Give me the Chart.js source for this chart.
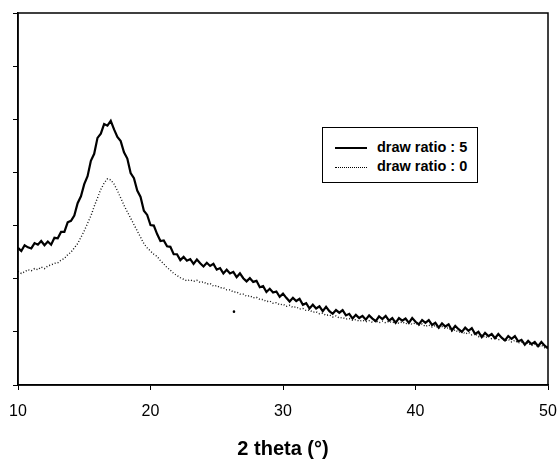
<!DOCTYPE html>
<html>
<head>
<meta charset="utf-8">
<script src="https://cdn.jsdelivr.net/npm/chart.js@4.4.1/dist/chart.umd.min.js"></script>
<style>
  body { margin: 0; background: #fff; }
  .wrap { position: relative; width: 558px; height: 459px; }
  .legend {
    position: absolute; left: 322px; top: 127px; width: 156px; height: 56px;
    border: 1px solid #000; box-sizing: border-box; background: #fff;
    font-family: "Liberation Sans", Arial, sans-serif; font-weight: bold; font-size: 14.5px; color: #000;
  }
  .legend .row { position: absolute; left: 12px; height: 18px; line-height: 18px; white-space: nowrap; }
  .legend .sample { display: inline-block; width: 32px; vertical-align: middle; margin-right: 10px; }
</style>
</head>
<body>
<div class="wrap">
  <canvas id="xrdChart" width="558" height="459"></canvas>
  <div class="legend">
    <div class="row" style="top: 10px;"><span class="sample" style="border-top: 2px solid #000;"></span>draw ratio : 5</div>
    <div class="row" style="top: 29px;"><span class="sample" style="border-top: 1px dotted #000;"></span>draw ratio : 0</div>
  </div>
</div>
<script>
// 2 theta grid, 10..50 in 0.25 steps
const thetaStart = 10;
const thetaStep = 0.25;

// intensity (arb. units), draw ratio 5
const ratio5 = [
  2.58, 2.52, 2.63, 2.59, 2.57, 2.67, 2.64, 2.71, 2.63, 2.70,
  2.64, 2.77, 2.76, 2.88, 2.88, 3.06, 3.09, 3.19, 3.42, 3.55,
  3.78, 3.93, 4.22, 4.35, 4.65, 4.73, 4.91, 4.88, 4.97, 4.81,
  4.67, 4.59, 4.38, 4.26, 3.99, 3.89, 3.66, 3.54, 3.28, 3.20,
  3.01, 3.00, 2.84, 2.71, 2.72, 2.61, 2.60, 2.46, 2.46, 2.35,
  2.41, 2.34, 2.37, 2.28, 2.36, 2.29, 2.23, 2.30, 2.24, 2.28,
  2.17, 2.20, 2.10, 2.17, 2.10, 2.13, 2.03, 2.10, 2.01, 1.95,
  2.01, 1.94, 1.96, 1.84, 1.86, 1.75, 1.81, 1.74, 1.76, 1.66,
  1.72, 1.64, 1.57, 1.64, 1.58, 1.62, 1.51, 1.54, 1.44, 1.51,
  1.44, 1.48, 1.39, 1.47, 1.39, 1.34, 1.41, 1.36, 1.41, 1.31,
  1.34, 1.25, 1.32, 1.26, 1.30, 1.23, 1.31, 1.25, 1.20, 1.29,
  1.24, 1.30, 1.21, 1.26, 1.17, 1.26, 1.21, 1.25, 1.17, 1.26,
  1.19, 1.14, 1.22, 1.17, 1.22, 1.13, 1.17, 1.08, 1.16, 1.10,
  1.14, 1.03, 1.11, 1.05, 1.00, 1.08, 1.02, 1.07, 0.96, 1.00,
  0.90, 0.98, 0.92, 0.96, 0.88, 0.96, 0.89, 0.84, 0.92, 0.87,
  0.92, 0.82, 0.85, 0.76, 0.83, 0.77, 0.81, 0.73, 0.81, 0.74,
  0.69
];

// intensity (arb. units), draw ratio 0
const ratio0 = [
  2.14, 2.10, 2.13, 2.17, 2.15, 2.19, 2.17, 2.22, 2.19, 2.24,
  2.26, 2.29, 2.30, 2.35, 2.38, 2.45, 2.50, 2.58, 2.66, 2.78,
  2.90, 3.04, 3.18, 3.36, 3.52, 3.68, 3.80, 3.88, 3.86, 3.78,
  3.66, 3.52, 3.38, 3.26, 3.14, 3.02, 2.90, 2.78, 2.66, 2.58,
  2.52, 2.46, 2.42, 2.34, 2.28, 2.21, 2.16, 2.10, 2.06, 2.02,
  1.99, 1.96, 1.98, 1.95, 1.97, 1.93, 1.94, 1.90, 1.91, 1.86,
  1.87, 1.83, 1.83, 1.79, 1.79, 1.75, 1.75, 1.71, 1.71, 1.67,
  1.68, 1.64, 1.65, 1.61, 1.61, 1.57, 1.58, 1.54, 1.55, 1.51,
  1.52, 1.48, 1.50, 1.46, 1.47, 1.43, 1.44, 1.40, 1.41, 1.37,
  1.38, 1.34, 1.35, 1.31, 1.32, 1.28, 1.30, 1.26, 1.27, 1.24,
  1.25, 1.22, 1.23, 1.20, 1.22, 1.19, 1.21, 1.18, 1.21, 1.17,
  1.20, 1.17, 1.20, 1.17, 1.20, 1.16, 1.19, 1.15, 1.18, 1.14,
  1.17, 1.12, 1.15, 1.10, 1.13, 1.09, 1.12, 1.07, 1.10, 1.06,
  1.08, 1.01, 1.04, 0.99, 1.02, 0.96, 0.99, 0.94, 0.97, 0.91,
  0.94, 0.89, 0.92, 0.87, 0.90, 0.85, 0.88, 0.83, 0.86, 0.81,
  0.84, 0.79, 0.81, 0.77, 0.79, 0.74, 0.77, 0.72, 0.75, 0.70,
  0.73
];

// lone speck in the scan
const speck = [{ x: 26.3, y: 1.38 }];

const xTicks = [10, 20, 30, 40, 50];

const toPoints = (vals) => vals.map((v, i) => ({ x: thetaStart + i * thetaStep, y: v }));

// full frame round the plot
const frame = {
  id: 'frame',
  afterDraw(chart) {
    const { ctx, chartArea: a } = chart;
    ctx.save();
    ctx.strokeStyle = '#000';
    ctx.lineWidth = 1.5;
    ctx.strokeRect(a.left, a.top, a.right - a.left, a.bottom - a.top);
    ctx.restore();
  }
};

new Chart(document.getElementById('xrdChart'), {
  type: 'line',
  data: {
    datasets: [
      {
        label: 'draw ratio : 0',
        data: toPoints(ratio0),
        borderColor: '#111',
        borderWidth: 1.4,
        borderDash: [1, 2],
        pointRadius: 0,
        tension: 0
      },
      {
        label: 'draw ratio : 5',
        data: toPoints(ratio5),
        borderColor: '#000',
        borderWidth: 2.2,
        pointRadius: 0,
        tension: 0
      },
      {
        type: 'scatter',
        label: 'speck',
        data: speck,
        pointRadius: 1.3,
        backgroundColor: '#000',
        borderWidth: 0
      }
    ]
  },
  options: {
    responsive: false,
    animation: false,
    layout: { padding: { top: 13, right: 10, left: 0, bottom: 0 } },
    plugins: { legend: { display: false }, tooltip: { enabled: false } },
    scales: {
      x: {
        type: 'linear',
        min: 10,
        max: 50,
        afterBuildTicks: (s) => { s.ticks = xTicks.map((v) => ({ value: v })); },
        afterFit: (s) => { s.height = 74; s.paddingLeft = 0; s.paddingRight = 0; },
        grid: { display: true, drawOnChartArea: false, drawTicks: true, tickLength: 5, color: '#000', lineWidth: 1 },
        border: { display: true, color: '#000', width: 1.5 },
        ticks: {
          color: '#000',
          padding: 12,
          font: { family: '"Liberation Sans", Arial, sans-serif', size: 16 }
        },
        title: {
          display: true,
          text: '2 theta (°)',
          color: '#000',
          padding: { top: 0, bottom: 0 },
          font: { family: '"Liberation Sans", Arial, sans-serif', size: 20, weight: 'bold', lineHeight: 1 }
        }
      },
      y: {
        min: 0,
        max: 7,
        afterFit: (s) => { s.width = 18; },
        grid: { display: true, drawOnChartArea: false, drawTicks: true, tickLength: 5, color: '#000', lineWidth: 1 },
        border: { display: true, color: '#000', width: 1.5 },
        ticks: { display: false, stepSize: 1 }
      }
    }
  },
  plugins: [frame]
});
</script>
</body>
</html>
